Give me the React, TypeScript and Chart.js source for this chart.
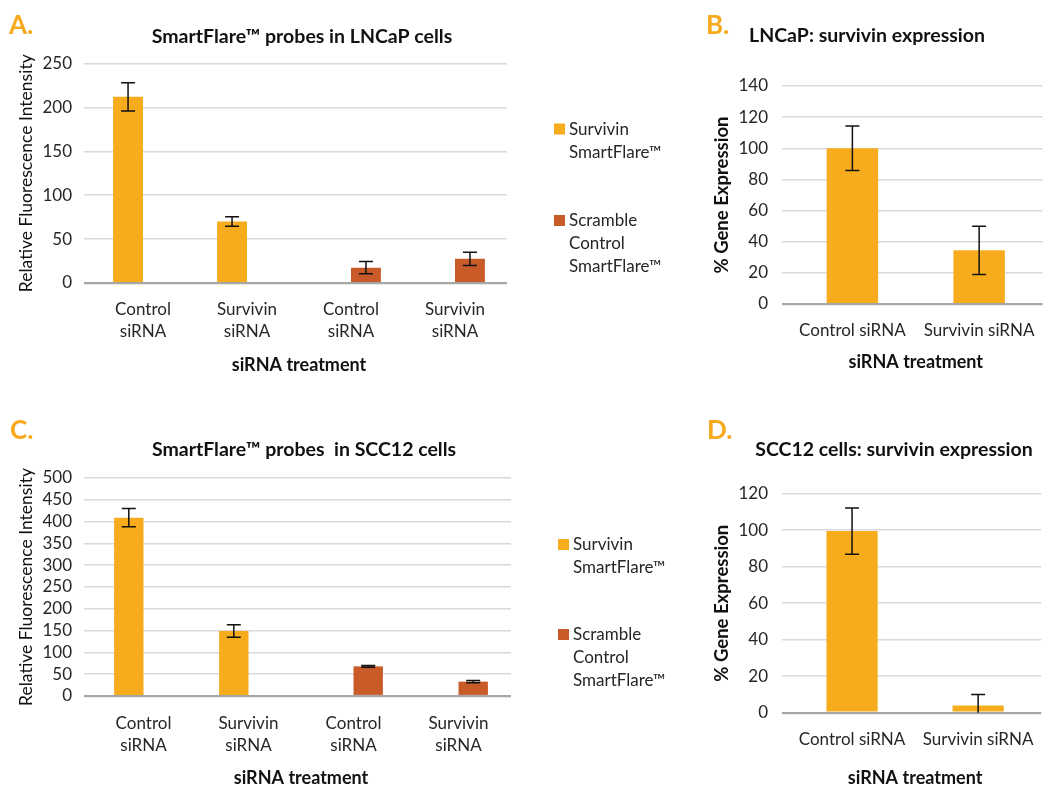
import React, { useEffect, useRef } from 'react';
import { Chart, registerables } from 'chart.js';

Chart.register(...registerables);

// ---------- DATA ----------
const ORANGE = '#F7AC1E';
const RUST = '#C95B29';

const groupCategories = [['Control', 'siRNA'], ['Survivin', 'siRNA'], ['Control', 'siRNA'], ['Survivin', 'siRNA']];
const pairCategories = ['Control siRNA', 'Survivin siRNA'];

const seriesNames = ['Survivin SmartFlare™', 'Scramble Control SmartFlare™'];
const legendLines = [['Survivin', 'SmartFlare™'], ['Scramble', 'Control', 'SmartFlare™']];

// Panel A – LNCaP, relative fluorescence
const survivinA = [212, 70, null, null];
const survivinErrA = [16, 5.5, null, null];
const scrambleA = [null, null, 17.5, 27.5];
const scrambleErrA = [null, null, 7, 7.5];
const axisA = { max: 250, step: 50 };

// Panel B – LNCaP, % gene expression
const valuesB = [100, 34.5];
const errB = [14.3, 15.5];
const axisB = { max: 140, step: 20 };

// Panel C – SCC12, relative fluorescence
const survivinC = [409, 149, null, null];
const survivinErrC = [21, 14.5, null, null];
const scrambleC = [null, null, 68, 33];
const scrambleErrC = [null, null, 1.8, 2.8];
const axisC = { max: 500, step: 50 };

// Panel D – SCC12, % gene expression
const valuesD = [99.5, 4];
const errD = [12.7, 6];
const axisD = { max: 120, step: 20 };

const titles = {
  A: 'SmartFlare™ probes in LNCaP cells',
  B: 'LNCaP: survivin expression',
  C: 'SmartFlare™ probes  in SCC12 cells',
  D: 'SCC12 cells: survivin expression',
};

// ---------- PLUGINS ----------
const FONT = 'Lato, "Open Sans", sans-serif';
const TEXT = '#262626';

const errorBarPlugin = {
  id: 'errorBars',
  afterDatasetsDraw(chart: any) {
    const ctx = chart.ctx;
    const yScale = chart.scales.y;
    ctx.save();
    ctx.strokeStyle = '#111111';
    ctx.lineWidth = 1.5;
    chart.data.datasets.forEach((ds: any, di: number) => {
      const errs = ds.errors;
      if (!errs) return;
      const meta = chart.getDatasetMeta(di);
      meta.data.forEach((bar: any, i: number) => {
        const v = ds.data[i];
        const e = errs[i];
        if (v == null || e == null) return;
        const x = bar.x;
        const hiV = v + e;
        const loV = Math.max(v - e, yScale.min);
        const yHi = yScale.getPixelForValue(hiV);
        const yLo = yScale.getPixelForValue(loV);
        const cap = 7;
        ctx.beginPath();
        ctx.moveTo(x, yHi);
        ctx.lineTo(x, yLo);
        ctx.moveTo(x - cap, yHi);
        ctx.lineTo(x + cap, yHi);
        if (v - e >= yScale.min) {
          ctx.moveTo(x - cap, yLo);
          ctx.lineTo(x + cap, yLo);
        }
        ctx.stroke();
      });
    });
    ctx.restore();
  },
};

const decorPlugin = {
  id: 'decor',
  afterDraw(chart: any, _args: any, opts: any) {
    const ctx = chart.ctx;
    ctx.save();
    // panel letter
    ctx.fillStyle = '#F7A81B';
    ctx.font = `bold 26px ${FONT}`;
    ctx.textAlign = 'left';
    ctx.textBaseline = 'alphabetic';
    ctx.fillText(opts.letter, opts.letterX, opts.letterY);
    // title
    ctx.fillStyle = '#111111';
    ctx.font = `bold 19.5px ${FONT}`;
    ctx.textAlign = 'center';
    ctx.textBaseline = 'middle';
    ctx.fillText(opts.title, opts.titleX, opts.titleY);
    // legend
    if (opts.legend) {
      const lg = opts.legend;
      ctx.font = `normal 17px ${FONT}`;
      ctx.textAlign = 'left';
      chart.data.datasets.forEach((ds: any, di: number) => {
        const entry = lg.entries[di];
        if (!entry) return;
        ctx.fillStyle = ds.backgroundColor;
        ctx.fillRect(lg.squareX, entry.y - 6, 11, 11);
        ctx.fillStyle = TEXT;
        ds.legendLines.forEach((line: string, li: number) => {
          ctx.fillText(line, lg.textX, entry.y + li * 23);
        });
      });
    }
    ctx.restore();
  },
};

// ---------- CHART FACTORY ----------
function makeConfig(spec: any) {
  const { width, height, area } = spec;
  return {
    type: 'bar',
    data: { labels: spec.labels, datasets: spec.datasets },
    options: {
      responsive: false,
      maintainAspectRatio: false,
      animation: false,
      devicePixelRatio: 1,
      layout: { padding: { left: 0, top: area.top, right: width - area.right, bottom: 0 } },
      plugins: {
        legend: { display: false },
        title: { display: false },
        tooltip: { enabled: false },
        decor: spec.decor,
      },
      scales: {
        x: {
          grid: { display: false, drawTicks: false },
          border: { display: false },
          ticks: {
            padding: spec.xTickPad,
            color: TEXT,
            font: { family: FONT, size: 17, lineHeight: 1.3 },
            maxRotation: 0,
            autoSkip: false,
          },
          title: {
            display: true,
            text: 'siRNA treatment',
            color: '#111111',
            font: { family: FONT, size: 18, weight: 'bold', lineHeight: spec.xTitleLH },
            padding: { top: 0, bottom: spec.xTitlePad },
          },
          afterFit: (s: any) => {
            s.height = height - area.bottom;
          },
        },
        y: {
          min: 0,
          max: spec.axis.max,
          ticks: {
            stepSize: spec.axis.step,
            autoSkip: false,
            padding: spec.yTickPad,
            color: TEXT,
            font: { family: FONT, size: 17 },
          },
          grid: {
            color: (c: any) => (c.tick && c.tick.value === 0 ? '#A6A6A6' : '#D9D9D9'),
            lineWidth: (c: any) => (c.tick && c.tick.value === 0 ? 2.2 : 1.5),
            drawTicks: true,
            tickLength: 7,
          },
          border: { display: false },
          title: {
            display: true,
            text: spec.yTitle,
            color: '#111111',
            font: {
              family: FONT,
              size: spec.yTitleBold ? 18.5 : 17.5,
              weight: spec.yTitleBold ? 'bold' : 'normal',
              lineHeight: 1.2,
            },
            padding: { top: spec.yTitlePad, bottom: 0 },
          },
          afterFit: (s: any) => {
            s.width = area.left;
          },
        },
      },
    },
    plugins: [errorBarPlugin, decorPlugin],
  };
}

function groupDatasets(sv: any[], svErr: any[], sc: any[], scErr: any[], catPct: number) {
  return [
    {
      label: seriesNames[0],
      legendLines: legendLines[0],
      data: sv,
      errors: svErr,
      backgroundColor: ORANGE,
      categoryPercentage: catPct,
      barPercentage: 1,
    },
    {
      label: seriesNames[1],
      legendLines: legendLines[1],
      data: sc,
      errors: scErr,
      backgroundColor: RUST,
      categoryPercentage: catPct,
      barPercentage: 1,
    },
  ];
}

function singleDataset(values: number[], errs: number[]) {
  return [
    {
      label: seriesNames[0],
      legendLines: legendLines[0],
      data: values,
      errors: errs,
      backgroundColor: ORANGE,
      categoryPercentage: 0.406,
      barPercentage: 1,
    },
  ];
}

const specs = [
  {
    key: 'A',
    left: 0, top: 0, width: 700, height: 395,
    area: { left: 91, top: 63.5, right: 507, bottom: 283 },
    labels: groupCategories,
    datasets: groupDatasets(survivinA, survivinErrA, scrambleA, scrambleErrA, 0.575),
    axis: axisA,
    yTitle: 'Relative Fluorescence Intensity', yTitleBold: false, yTitlePad: 15.5,
    yTickPad: 12, xTickPad: 15, xTitleLH: 1.2, xTitlePad: 19,
    decor: {
      letter: 'A.', letterX: 9, letterY: 34,
      title: titles.A, titleX: 302, titleY: 37,
      legend: { squareX: 554, textX: 569, entries: [{ y: 129.5 }, { y: 221 }] },
    },
  },
  {
    key: 'B',
    left: 700, top: 0, width: 351, height: 395,
    area: { left: 89, top: 86, right: 345, bottom: 304 },
    labels: pairCategories,
    datasets: singleDataset(valuesB, errB),
    axis: axisB,
    yTitle: '% Gene Expression', yTitleBold: true, yTitlePad: 11,
    yTickPad: 14, xTickPad: 15, xTitleLH: 1.2, xTitlePad: 22,
    decor: {
      letter: 'B.', letterX: 6, letterY: 34,
      title: titles.B, titleX: 167, titleY: 36,
    },
  },
  {
    key: 'C',
    left: 0, top: 395, width: 700, height: 391,
    area: { left: 91, top: 83, right: 511, bottom: 301 },
    labels: groupCategories,
    datasets: groupDatasets(survivinC, survivinErrC, scrambleC, scrambleErrC, 0.56),
    axis: axisC,
    yTitle: 'Relative Fluorescence Intensity', yTitleBold: false, yTitlePad: 15.5,
    yTickPad: 12, xTickPad: 16, xTitleLH: 0.9, xTitlePad: 0,
    decor: {
      letter: 'C.', letterX: 10, letterY: 44,
      title: titles.C, titleX: 304, titleY: 55,
      legend: { squareX: 558, textX: 573, entries: [{ y: 150 }, { y: 240 }] },
    },
  },
  {
    key: 'D',
    left: 700, top: 395, width: 351, height: 391,
    area: { left: 89, top: 98.7, right: 345, bottom: 317.7 },
    labels: pairCategories,
    datasets: singleDataset(valuesD, errD),
    axis: axisD,
    yTitle: '% Gene Expression', yTitleBold: true, yTitlePad: 11,
    yTickPad: 14, xTickPad: 16, xTitleLH: 0.9, xTitlePad: 0,
    decor: {
      letter: 'D.', letterX: 7, letterY: 44,
      title: titles.D, titleX: 194, titleY: 55,
    },
  },
];

function Panel({ spec }: { spec: any }) {
  const ref = useRef<HTMLCanvasElement | null>(null);
  useEffect(() => {
    if (!ref.current) return;
    const chart = new Chart(ref.current, makeConfig(spec) as any);
    return () => chart.destroy();
  }, [spec]);
  return (
    <canvas
      ref={ref}
      width={spec.width}
      height={spec.height}
      style={{ position: 'absolute', left: spec.left, top: spec.top, width: spec.width, height: spec.height }}
    />
  );
}

export default function App() {
  return (
    <div style={{ position: 'fixed', left: 0, top: 0, width: 1051, height: 786, background: '#ffffff', overflow: 'hidden' }}>
      {specs.map((s) => (
        <Panel key={s.key} spec={s} />
      ))}
    </div>
  );
}
